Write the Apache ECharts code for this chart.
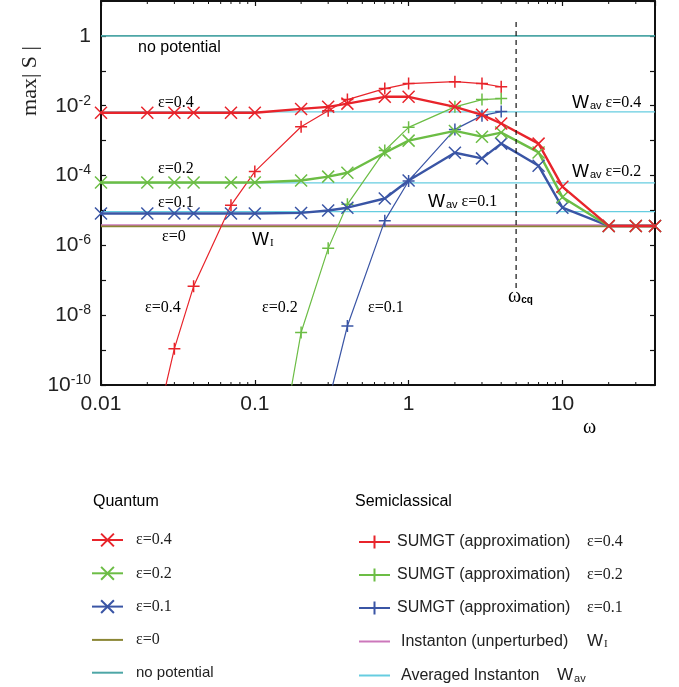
<!DOCTYPE html>
<html lang="en">
<head>
    <meta charset="utf-8">
    <title>max|S| vs omega</title>
    <script type="text/javascript" src="https://cdn.jsdelivr.net/npm/echarts@6/dist/echarts.min.js"></script>
    <style>
        html, body { margin: 0; padding: 0; background: #fff; }
    </style>
</head>

<body>
    <div id="main" style="width:679px;height:687px;"></div>

    <script type="text/javascript">
    // omega grid of the quantum runs
    var omegaQ = [0.01, 0.02, 0.03, 0.04, 0.07, 0.1, 0.2, 0.3, 0.4, 0.7, 1, 2, 3, 4, 7, 10, 20, 30, 40];
    var quantum04 = [6.3e-3, 6.3e-3, 6.3e-3, 6.3e-3, 6.3e-3, 6.3e-3, 8.1e-3, 9.3e-3, 1.15e-2, 1.8e-2, 1.8e-2, 9.3e-3, 5.5e-3, 3.1e-3, 8.2e-4, 4.8e-5, 3.6e-6, 3.6e-6, 3.6e-6];
    var quantum02 = [6.3e-5, 6.3e-5, 6.3e-5, 6.3e-5, 6.3e-5, 6.3e-5, 7.2e-5, 9.3e-5, 1.2e-4, 4.5e-4, 1.0e-3, 1.9e-3, 1.3e-3, 1.7e-3, 4.6e-4, 2.4e-5, 3.6e-6, 3.6e-6, 3.6e-6];
    var quantum01 = [8.2e-6, 8.2e-6, 8.2e-6, 8.2e-6, 8.2e-6, 8.2e-6, 8.5e-6, 1.0e-5, 1.2e-5, 2.2e-5, 7.2e-5, 4.5e-4, 3.1e-4, 8.2e-4, 1.9e-4, 1.2e-5, 3.6e-6, 3.6e-6, 3.6e-6];

    // semiclassical SUMGT approximation
    var omegaS04 = [0.02, 0.03, 0.04, 0.07, 0.1, 0.2, 0.3, 0.4, 0.7, 1, 2, 3, 4];
    var semi04 = [5e-13, 1.1e-9, 6.7e-8, 1.4e-5, 1.3e-4, 2.5e-3, 7.2e-3, 1.5e-2, 3.1e-2, 4.3e-2, 4.9e-2, 4.3e-2, 3.5e-2];
    var omegaS02 = [0.1, 0.2, 0.3, 0.4, 0.7, 1, 2, 3, 4];
    var semi02 = [1e-16, 3.2e-9, 8.2e-7, 1.5e-5, 5.2e-4, 2.4e-3, 9.3e-3, 1.5e-2, 1.6e-2];
    var omegaS01 = [0.3, 0.4, 0.7, 1, 2, 3, 4];
    var semi01 = [3e-11, 4.9e-9, 5.1e-6, 7.0e-5, 2.1e-3, 5.2e-3, 6.8e-3];

    // constant levels
    var noPotential = 1;
    var levelEps0 = 3.5e-6;
    var levelWI = 3.8e-6;
    var levelWav = [6.7e-3, 6.2e-5, 9.3e-6];   // eps = 0.4, 0.2, 0.1
    var omegaCq = 5;
    var omegaCqSpan = [2.5, 6e-8];

    var xMin = 0.01, xMax = 40;
    var yMin = 1e-10, yMax = 10;

    var RED = '#e8242b', GREEN = '#6cbd45', BLUE = '#3a55a5';
    var TEAL = '#4da6a6', CYAN = '#66cde0', PINK = '#cc77bb', OLIVE = '#8b8635';
    var SERIF = '"Liberation Serif", "DejaVu Serif", serif';
    var SANS = '"Liberation Sans", Arial, sans-serif';

    var CROSS = 'path://M0,0L10,10M10,0L0,10';
    var PLUS = 'path://M5,0L5,10M0,5L10,5';
    var BAR = 'path://M0,0L31,0L31,2L0,2Z';

    function pairs(xs, ys) {
        return xs.map(function (x, i) { return [x, ys[i]]; });
    }
    function flat(v) {
        return [[xMin, v], [xMax, v]];
    }

    function quantumSeries(name, xs, ys, color) {
        return {
            name: name, type: 'line', data: pairs(xs, ys),
            symbol: CROSS, symbolSize: 12,
            lineStyle: { color: color, width: 2.4 },
            itemStyle: { color: color, borderColor: color, borderWidth: 1.5 },
            z: 4
        };
    }
    function semiSeries(name, xs, ys, color) {
        return {
            name: name, type: 'line', data: pairs(xs, ys),
            symbol: PLUS, symbolSize: 12,
            lineStyle: { color: color, width: 1.2 },
            itemStyle: { color: color, borderColor: color, borderWidth: 1.5 },
            z: 3
        };
    }
    function levelSeries(name, v, color, width) {
        return {
            name: name, type: 'line', data: flat(v), symbol: 'none',
            lineStyle: { color: color, width: width },
            itemStyle: { color: color },
            z: 2
        };
    }

    var legendNames = {
        Q04: '{e|ε=0.4}', Q02: '{e|ε=0.2}', Q01: '{e|ε=0.1}', Q0: '{e|ε=0}', NP: '{s|no potential}',
        S04: '{a|SUMGT (approximation)}{e|ε=0.4}',
        S02: '{a|SUMGT (approximation)}{e|ε=0.2}',
        S01: '{a|SUMGT (approximation)}{e|ε=0.1}',
        WI: '{b|Instanton (unperturbed)}{w|W}{i|I}',
        WAV: '{c|Averaged Instanton}{w|W}{v|av}'
    };

    var legendRich = {
        e: { fontFamily: SERIF, fontSize: 16, color: '#222' },
        s: { fontFamily: SANS, fontSize: 15, color: '#222' },
        a: { fontFamily: SANS, fontSize: 16, color: '#222', width: 190 },
        b: { fontFamily: SANS, fontSize: 16, color: '#222', width: 186, padding: [0, 0, 0, 4] },
        c: { fontFamily: SANS, fontSize: 16, color: '#222', width: 156, padding: [0, 0, 0, 4] },
        w: { fontFamily: SANS, fontSize: 17, color: '#222' },
        i: { fontFamily: SERIF, fontSize: 11, color: '#222', padding: [6, 0, 0, 1] },
        v: { fontFamily: SANS, fontSize: 11, color: '#222', padding: [6, 0, 0, 1] }
    };

    var textRich = {
        e: { fontFamily: SERIF, fontSize: 16, color: '#222' },
        s: { fontFamily: SANS, fontSize: 16, color: '#222' },
        w: { fontFamily: SANS, fontSize: 18, color: '#222' },
        i: { fontFamily: SERIF, fontSize: 11, color: '#222', padding: [6, 0, 0, 1] },
        v: { fontFamily: SANS, fontSize: 11, color: '#222', padding: [6, 4, 0, 1] },
        o: { fontFamily: SERIF, fontSize: 20, color: '#222' },
        q: { fontFamily: SANS, fontSize: 10, fontWeight: 'bold', color: '#222', padding: [7, 0, 0, 0] }
    };

    function label(x, y, text) {
        return {
            type: 'text', x: x, y: y, silent: true,
            style: { text: text, rich: textRich, verticalAlign: 'middle', align: 'left' }
        };
    }

    var labels = [
        label(138, 48, '{s|no potential}'),
        label(158, 103, '{e|ε=0.4}'),
        label(158, 169, '{e|ε=0.2}'),
        label(158, 203, '{e|ε=0.1}'),
        label(162, 237, '{e|ε=0}'),
        label(252, 240, '{w|W}{i|I}'),
        label(145, 308, '{e|ε=0.4}'),
        label(262, 308, '{e|ε=0.2}'),
        label(368, 308, '{e|ε=0.1}'),
        label(572, 103, '{w|W}{v|av}{e|ε=0.4}'),
        label(572, 172, '{w|W}{v|av}{e|ε=0.2}'),
        label(428, 202, '{w|W}{v|av}{e|ε=0.1}'),
        label(508, 297, '{o|ω}{q|cq}'),
        label(583, 428, '{o|ω}'),
        label(93, 502, '{s|Quantum}'),
        label(355, 502, '{s|Semiclassical}'),
        {
            type: 'text', x: 30, y: 81, rotation: Math.PI / 2, silent: true,
            style: {
                text: 'max| S |', fontFamily: SERIF, fontSize: 22, fill: '#222',
                align: 'center', verticalAlign: 'middle'
            }
        }
    ];

    function xLabel(v) {
        var l = Math.log10(v), e = Math.round(l);
        if (Math.abs(l - e) > 1e-6) return '';
        return e >= 0 ? String(Math.pow(10, e)) : Math.pow(10, e).toFixed(-e);
    }
    function yLabel(v) {
        var l = Math.log10(v), e = Math.round(l);
        if (Math.abs(l - e) > 1e-6) return '';
        if (e === 0) return '{n|1}';
        if (e > 0 || e % 2 !== 0) return '';
        return '{n|10}{p|' + e + '}';
    }

    var axisLine = { show: true, lineStyle: { color: '#111', width: 2 } };
    var axisTick = { show: true, inside: true, length: 5, lineStyle: { color: '#111', width: 1.2 } };

    var myChart = echarts.init(document.getElementById('main'));

    var series = [
        levelSeries('NP', noPotential, TEAL, 1.6),
        levelSeries('WAV', levelWav[0], CYAN, 1.3),
        levelSeries('WAV', levelWav[1], CYAN, 1.3),
        levelSeries('WAV', levelWav[2], CYAN, 1.3),
        levelSeries('WI', levelWI, PINK, 1.6),
        levelSeries('Q0', levelEps0, OLIVE, 1.6),
        semiSeries('S01', omegaS01, semi01, BLUE),
        semiSeries('S02', omegaS02, semi02, GREEN),
        semiSeries('S04', omegaS04, semi04, RED),
        quantumSeries('Q01', omegaQ, quantum01, BLUE),
        quantumSeries('Q02', omegaQ, quantum02, GREEN),
        quantumSeries('Q04', omegaQ, quantum04, RED),
        {
            name: 'cq', type: 'line', symbol: 'none',
            data: [[omegaCq, omegaCqSpan[0]], [omegaCq, omegaCqSpan[1]]],
            lineStyle: { color: '#111', width: 1.2, type: [5, 4] },
            z: 5
        }
    ];

    function legendFormatter(name) { return legendNames[name] || name; }

    myChart.setOption({
        animation: false,
        backgroundColor: '#fff',
        grid: { left: 101, right: 24, top: 1, bottom: 302 },
        xAxis: [{
            type: 'log', logBase: 10, min: xMin, max: xMax, interval: 1,
            axisLine: axisLine, axisTick: axisTick, splitLine: { show: false },
            axisLabel: {
                formatter: xLabel, showMaxLabel: false, margin: 9,
                fontFamily: SANS, fontSize: 21, color: '#222'
            }
        }, {
            type: 'log', logBase: 10, min: xMin, max: xMax, interval: 1, position: 'top',
            axisLine: axisLine, axisTick: axisTick, splitLine: { show: false },
            axisLabel: { show: false }
        }],
        yAxis: [{
            type: 'log', logBase: 10, min: yMin, max: yMax, interval: 1,
            axisLine: axisLine, axisTick: axisTick, splitLine: { show: false },
            axisLabel: {
                formatter: yLabel, margin: 10, showMaxLabel: false,
                rich: {
                    n: { fontFamily: SANS, fontSize: 21, color: '#222' },
                    p: { fontFamily: SANS, fontSize: 14, color: '#222', padding: [0, 0, 10, 0] }
                }
            }
        }, {
            type: 'log', logBase: 10, min: yMin, max: yMax, interval: 1, position: 'right',
            axisLine: axisLine, axisTick: axisTick, splitLine: { show: false },
            axisLabel: { show: false }
        }],
        legend: [{
            left: 91, top: 532, height: 200, orient: 'vertical', padding: 0,
            itemWidth: 31, itemHeight: 16, itemGap: 17.3, selectedMode: false,
            data: ['Q04', 'Q02', 'Q01', { name: 'Q0', icon: BAR }, { name: 'NP', icon: BAR }],
            formatter: legendFormatter,
            textStyle: { rich: legendRich, padding: [0, 0, 0, 8] }
        }, {
            left: 358, top: 534, height: 200, orient: 'vertical', padding: 0,
            itemWidth: 31, itemHeight: 16, itemGap: 17, selectedMode: false,
            data: ['S04', 'S02', 'S01', { name: 'WI', icon: BAR }, { name: 'WAV', icon: BAR }],
            formatter: legendFormatter,
            textStyle: { rich: legendRich, padding: [0, 0, 0, 2] }
        }],
        series: series,
        graphic: labels
    });

    // minor ticks 2..9 on the log omega axis (bottom and top)
    var ticks = [];
    var frameTop = 1, frameBottom = 687 - 302;
    for (var d = -2; d <= 1; d++) {
        for (var k = 2; k <= 9; k++) {
            var v = k * Math.pow(10, d);
            if (v >= xMax) continue;
            var px = myChart.convertToPixel({ xAxisIndex: 0 }, v);
            ticks.push({ type: 'line', silent: true, shape: { x1: px, y1: frameBottom, x2: px, y2: frameBottom - 3 }, style: { stroke: '#111', lineWidth: 1 } });
            ticks.push({ type: 'line', silent: true, shape: { x1: px, y1: frameTop, x2: px, y2: frameTop + 3 }, style: { stroke: '#111', lineWidth: 1 } });
        }
    }
    myChart.setOption({ graphic: labels.concat(ticks) });
    </script>
</body>
</html>
